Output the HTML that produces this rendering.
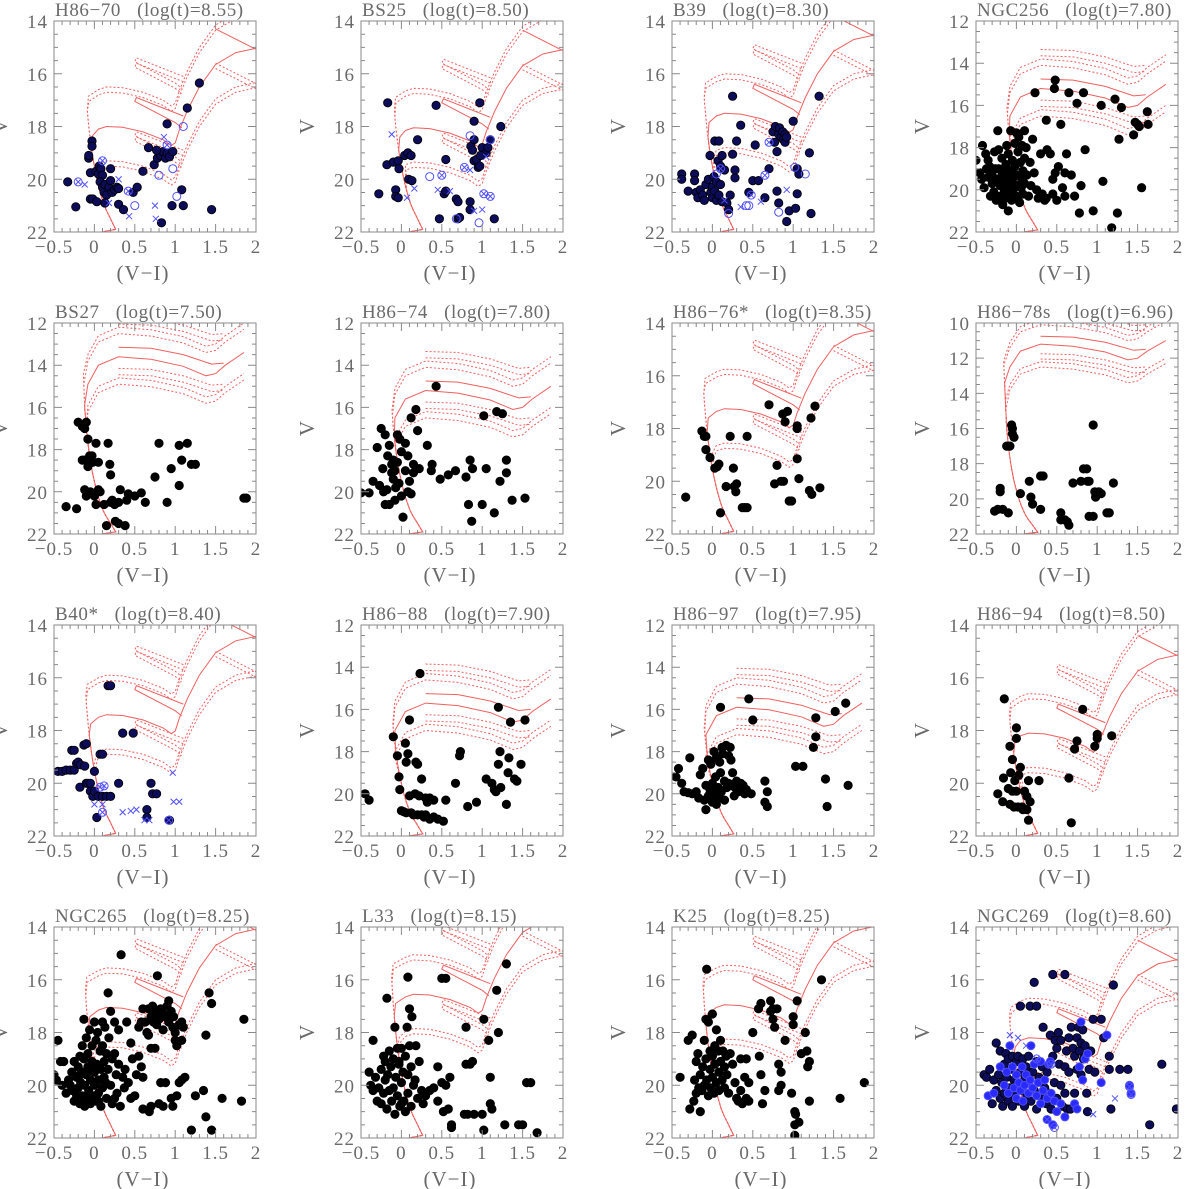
<!DOCTYPE html>
<html><head><meta charset="utf-8"><style>
html,body{margin:0;padding:0;background:#fff;}
svg{display:block;font-family:"Liberation Serif","DejaVu Serif",serif;}
</style></head><body>
<svg id="fig" width="1200" height="1189" viewBox="0 0 1200 1189" xmlns="http://www.w3.org/2000/svg"></svg>
<script>
// ---- chart data ----
const panelNames = ["H86\u221270","BS25","B39","NGC256","BS27","H86\u221274","H86\u221276*","H86\u221278s","B40*","H86\u221288","H86\u221297","H86\u221294","NGC265","L33","K25","NGC269"];
const panelAges = ["8.55","8.50","8.30","7.80","7.50","7.80","8.35","6.96","8.40","7.90","7.95","8.50","8.25","8.15","8.25","8.60"];
const panelYTop = [14,14,14,12,12,12,14,10,14,12,12,14,14,14,14,14];
const isoTurnoffV = [18.0,18.05,17.5,15.2,13.6,15.2,17.25,11.2,17.4,15.7,15.9,18.1,17.05,16.55,16.95,18.2];
const isoYoung = [0,0,0,1,1,1,0,1,0,1,1,0,0,0,0,0];
const hasBlue = [1,1,1,0,0,0,0,0,1,0,0,0,0,0,0,1];
const xTicks = [-0.5,0,0.5,1,1.5,2];
const xTickLabels = ["\u22120.5","0","0.5","1","1.5","2"];

const stars = [
[[-0.33,20.1],[-0.23,21.05],[-0.05,19.75],[-0.07,19.2],[-0.07,19.1],[-0.03,18.55],[-0.03,18.75],[-0.05,20.75],[-0.02,20.75],[0.02,19.7],[0.03,20.85],[0.05,19.8],[0.06,19.5],[0.08,19.6],[0.1,19.85],[0.07,20.1],[0.1,20.3],[0.12,20.5],[0.13,20.2],[0.15,20.6],[0.18,20.3],[0.2,20.05],[0.22,20.5],[0.25,20.4],[0.28,20.3],[0.3,20.35],[0.2,19.6],[0.13,20.9],[0.3,20.95],[0.36,21.15],[0.48,20.5],[0.53,20.3],[0.6,19.7],[0.67,18.8],[0.74,19.45],[0.78,19.2],[0.8,19.0],[0.82,19.1],[0.85,18.95],[0.88,19.2],[0.9,19.0],[0.93,19.15],[0.97,18.95],[0.77,18.9],[0.9,17.9],[1.15,17.3],[1.3,16.35],[1.08,20.4],[1.1,21.0],[0.96,21.0],[0.83,21.65],[1.45,21.15]],
[[-0.28,20.55],[-0.18,19.45],[-0.17,17.1],[-0.1,19.35],[-0.07,20.4],[-0.07,20.65],[-0.04,20.7],[-0.04,19.3],[-0.03,19.6],[0.04,19.1],[0.08,19.0],[0.12,19.1],[0.09,20.0],[0.13,20.05],[0.2,18.5],[0.43,17.2],[0.47,21.5],[0.53,20.55],[0.55,20.45],[0.55,19.25],[0.68,20.75],[0.7,20.85],[0.7,21.5],[0.72,21.45],[0.85,20.85],[0.85,21.15],[0.86,18.75],[0.88,18.9],[0.9,19.3],[0.9,18.5],[0.9,17.8],[0.93,19.25],[0.95,19.55],[0.97,19.5],[0.97,17.1],[1.0,18.8],[1.05,19.0],[1.07,18.8],[1.1,18.5],[1.23,18.0],[1.15,21.5],[0.98,19.1]],
[[-0.38,19.8],[-0.38,20.0],[-0.3,20.45],[-0.22,19.8],[-0.22,20.05],[-0.2,20.5],[-0.18,20.7],[-0.15,20.4],[-0.12,20.6],[-0.1,20.8],[-0.08,20.2],[-0.05,20.0],[-0.03,19.1],[-0.02,20.5],[0.0,20.3],[0.0,20.7],[0.02,19.9],[0.03,20.45],[0.05,20.1],[0.05,20.8],[0.07,19.3],[0.08,20.6],[0.1,19.5],[0.1,20.2],[0.12,20.85],[0.03,18.55],[0.08,18.55],[0.12,19.1],[0.15,19.65],[0.18,20.9],[0.2,21.15],[0.22,20.6],[0.25,19.05],[0.28,19.95],[0.28,19.65],[0.3,18.55],[0.35,17.95],[0.25,16.85],[0.45,20.5],[0.5,20.05],[0.53,18.7],[0.57,20.05],[0.65,20.7],[0.7,19.6],[0.75,18.2],[0.77,18.6],[0.78,18.0],[0.8,20.45],[0.82,18.3],[0.83,18.05],[0.85,18.4],[0.87,18.2],[0.88,18.5],[0.9,18.3],[0.9,18.6],[0.92,18.4],[0.8,18.95],[0.82,20.9],[0.95,21.2],[1.03,21.1],[1.05,19.6],[1.07,19.8],[1.05,20.55],[1.0,17.8],[1.2,19.0],[1.22,21.3],[1.32,16.85],[0.92,21.6]],
[[-0.5,18.6],[-0.45,19.2],[-0.43,19.5],[-0.42,17.9],[-0.38,18.3],[-0.35,18.6],[-0.35,19.4],[-0.33,18.9],[-0.3,19.3],[-0.3,19.7],[-0.28,20.1],[-0.27,18.2],[-0.25,19.5],[-0.23,17.2],[-0.22,19.0],[-0.2,19.8],[-0.2,20.3],[-0.18,18.5],[-0.18,19.3],[-0.17,20.7],[-0.15,19.6],[-0.15,20.0],[-0.13,18.8],[-0.12,17.9],[-0.12,19.4],[-0.1,20.2],[-0.1,18.3],[-0.08,19.1],[-0.08,19.8],[-0.07,17.2],[-0.06,20.5],[-0.05,18.6],[-0.05,19.5],[-0.04,20.0],[-0.02,17.8],[-0.02,18.9],[0.0,17.3],[0.0,19.3],[0.0,20.3],[0.02,18.2],[0.02,19.8],[0.03,17.5],[0.04,20.6],[0.05,18.7],[0.05,19.4],[0.07,17.9],[0.08,19.1],[0.08,20.2],[0.1,17.2],[0.1,18.5],[0.1,19.7],[0.12,18.0],[0.13,19.3],[0.15,20.3],[0.17,18.7],[0.18,19.8],[0.2,17.6],[0.22,19.2],[0.25,20.0],[0.27,20.4],[-0.4,19.9],[-0.32,20.3],[-0.26,19.0],[-0.16,19.1],[-0.1,21.0],[-0.25,20.5],[0.3,18.3],[0.32,20.2],[0.35,20.5],[0.37,20.4],[0.37,16.7],[0.38,18.1],[0.42,18.3],[0.45,19.5],[0.45,20.2],[0.47,15.2],[0.48,14.8],[0.48,19.2],[0.5,20.5],[0.52,18.9],[0.55,16.9],[0.57,19.9],[0.6,19.2],[0.6,20.3],[0.62,18.3],[0.65,15.4],[0.68,19.3],[0.72,20.3],[0.75,15.9],[0.78,21.1],[0.8,19.8],[0.83,15.4],[0.85,18.1],[0.95,21.0],[1.05,16.0],[1.07,19.6],[1.18,21.8],[1.22,15.7],[1.25,21.1],[1.27,17.6],[1.3,16.1],[1.45,17.4],[1.47,16.8],[1.5,16.9],[1.52,17.0],[1.55,19.9],[1.62,16.3],[1.63,16.9],[0.23,15.4],[-0.37,19.0],[-0.28,19.6],[-0.22,18.1],[-0.06,19.2],[0.06,19.9],[-0.14,20.4]],
[[-0.35,20.7],[-0.22,20.8],[-0.2,16.7],[-0.15,16.9],[-0.12,17.0],[-0.1,16.7],[-0.15,18.5],[-0.12,18.5],[-0.12,19.9],[-0.1,20.2],[-0.08,17.5],[-0.08,18.8],[-0.06,18.3],[-0.05,20.0],[-0.03,18.3],[-0.02,18.6],[0.0,20.2],[0.02,20.6],[0.02,17.7],[0.05,19.9],[0.05,18.6],[0.07,20.0],[0.12,20.6],[0.15,21.6],[0.17,17.7],[0.19,18.7],[0.2,19.2],[0.2,20.5],[0.22,20.4],[0.25,20.6],[0.26,21.4],[0.3,21.5],[0.3,20.5],[0.32,19.9],[0.38,21.6],[0.4,20.4],[0.42,20.1],[0.5,20.2],[0.58,20.05],[0.63,20.5],[0.75,19.3],[0.8,17.7],[0.9,20.5],[0.95,18.9],[1.05,17.8],[1.05,19.7],[1.08,18.5],[1.15,17.7],[1.2,18.7],[1.25,18.7],[1.85,20.3],[1.88,20.3]],
[[-0.5,20.05],[-0.4,20.05],[-0.35,19.5],[-0.3,17.9],[-0.27,19.7],[-0.25,17.0],[-0.23,18.9],[-0.22,20.0],[-0.2,20.6],[-0.2,17.3],[-0.18,19.9],[-0.17,18.3],[-0.15,20.6],[-0.15,17.8],[-0.12,19.1],[-0.12,18.7],[-0.1,19.4],[-0.1,18.5],[-0.08,19.0],[-0.08,20.4],[-0.07,19.8],[-0.05,17.3],[-0.05,18.6],[-0.03,19.6],[-0.02,17.5],[0.0,20.2],[0.0,18.1],[0.02,21.2],[0.05,17.7],[0.05,19.0],[0.08,18.3],[0.08,20.0],[0.1,19.5],[0.12,16.5],[0.12,20.1],[0.15,18.7],[0.15,19.1],[0.18,16.1],[0.2,17.1],[0.22,18.9],[0.32,17.8],[0.37,19.0],[0.38,18.7],[0.43,15.0],[0.48,19.4],[0.58,19.2],[0.67,19.0],[0.8,19.3],[0.83,20.6],[0.85,18.5],[0.87,21.4],[0.88,18.9],[1.0,20.6],[1.02,16.4],[1.05,18.9],[1.15,21.0],[1.18,16.2],[1.22,19.5],[1.25,16.3],[1.3,18.5],[1.3,19.1],[1.37,20.4],[1.53,20.3]],
[[-0.33,20.6],[-0.13,18.1],[-0.1,18.3],[-0.08,18.3],[-0.08,18.8],[-0.03,19.1],[0.03,19.5],[0.06,19.45],[0.08,19.35],[0.1,21.2],[0.17,20.2],[0.22,18.3],[0.26,19.5],[0.27,20.2],[0.29,20.4],[0.3,20.1],[0.37,21.0],[0.4,21.0],[0.43,21.0],[0.43,18.3],[0.7,17.1],[0.77,20.1],[0.8,19.4],[0.85,20.0],[0.88,20.0],[0.87,17.45],[0.9,17.75],[0.93,17.35],[0.95,20.75],[0.98,20.75],[1.05,17.9],[1.05,18.0],[1.05,19.15],[1.07,19.9],[1.2,20.35],[1.23,20.5],[1.22,17.6],[1.27,17.15],[1.33,20.25]],
[[-0.27,20.7],[-0.23,20.6],[-0.2,19.4],[-0.2,19.6],[-0.17,20.6],[-0.12,17.0],[-0.1,17.0],[-0.1,20.8],[-0.08,17.0],[-0.06,15.8],[-0.05,16.0],[-0.05,16.3],[-0.03,16.5],[0.05,19.7],[0.16,19.0],[0.18,19.9],[0.2,20.3],[0.3,18.7],[0.33,18.7],[0.3,20.6],[0.55,20.8],[0.55,21.2],[0.6,21.2],[0.63,21.3],[0.65,21.5],[0.7,19.1],[0.8,19.0],[0.83,18.3],[0.87,18.3],[0.88,19.0],[0.9,19.0],[0.9,21.0],[0.95,21.0],[0.95,15.8],[0.97,19.6],[0.98,19.9],[1.02,19.6],[1.05,19.7],[1.12,20.8],[1.15,20.8],[1.2,19.1]],
[[-0.45,19.55],[-0.4,19.55],[-0.35,19.5],[-0.3,19.5],[-0.28,18.75],[-0.25,18.75],[-0.25,19.5],[-0.22,19.25],[-0.2,19.2],[-0.18,20.15],[-0.17,19.3],[-0.13,18.55],[-0.12,19.35],[-0.1,18.5],[-0.1,20.0],[-0.08,20.0],[-0.05,20.0],[-0.05,20.3],[-0.02,20.5],[0.0,19.55],[0.0,20.3],[0.05,20.5],[0.07,18.9],[0.1,18.9],[0.1,20.5],[0.15,20.5],[0.2,20.5],[0.17,16.3],[0.2,16.3],[0.3,20.0],[0.35,18.1],[0.48,18.1],[0.65,21.0],[0.65,21.3],[0.7,20.0],[0.72,20.4],[0.77,20.4],[0.93,21.4],[0.03,21.3]],
[[-0.45,20.0],[-0.4,20.3],[-0.1,17.3],[-0.05,18.2],[-0.03,19.2],[-0.02,19.8],[0.0,20.8],[0.03,20.85],[0.05,17.6],[0.06,18.5],[0.06,20.9],[0.08,18.1],[0.1,16.5],[0.1,20.1],[0.12,20.9],[0.15,21.0],[0.17,20.0],[0.18,18.5],[0.2,18.6],[0.2,21.0],[0.22,20.1],[0.23,14.3],[0.25,21.0],[0.25,19.3],[0.28,21.1],[0.3,21.0],[0.3,20.2],[0.32,20.4],[0.35,21.2],[0.35,20.2],[0.4,21.1],[0.4,20.3],[0.45,21.2],[0.52,21.3],[0.55,20.3],[0.67,19.5],[0.72,18.2],[0.73,18.0],[0.82,20.6],[0.93,20.4],[1.05,19.3],[1.12,19.5],[1.15,19.8],[1.17,19.9],[1.2,18.6],[1.22,18.0],[1.23,19.7],[1.2,15.9],[1.3,20.5],[1.32,19.0],[1.33,18.3],[1.35,16.6],[1.4,19.3],[1.43,19.4],[1.48,18.6],[1.53,16.5]],
[[-0.45,19.2],[-0.42,18.8],[-0.38,19.5],[-0.35,19.9],[-0.3,19.95],[-0.28,18.3],[-0.25,20.0],[-0.2,19.9],[-0.17,20.2],[-0.15,19.1],[-0.12,18.8],[-0.1,20.3],[-0.08,19.6],[-0.08,20.75],[-0.05,18.4],[-0.05,20.1],[-0.03,19.8],[-0.02,18.6],[0.0,19.5],[0.0,20.4],[0.02,18.0],[0.02,20.0],[0.04,19.2],[0.05,18.3],[0.05,20.5],[0.07,19.7],[0.08,20.2],[0.09,18.5],[0.1,15.9],[0.1,19.0],[0.11,19.9],[0.12,17.8],[0.13,18.1],[0.15,19.4],[0.15,20.3],[0.17,17.7],[0.18,19.7],[0.2,18.2],[0.2,19.5],[0.22,17.8],[0.23,18.4],[0.25,19.0],[0.27,20.1],[0.28,19.7],[0.3,19.4],[0.32,19.9],[0.35,19.5],[0.38,19.6],[0.4,20.0],[0.42,19.8],[0.45,15.5],[0.48,20.0],[0.5,16.5],[0.65,19.4],[0.65,20.4],[0.68,20.6],[0.68,19.9],[1.03,18.7],[1.12,18.7],[1.25,17.8],[1.28,16.4],[1.28,17.3],[1.4,19.3],[1.42,20.6],[1.52,16.1],[1.65,15.7],[1.68,19.6]],
[[-0.23,20.4],[-0.17,20.7],[-0.16,19.8],[-0.15,16.8],[-0.1,20.2],[-0.08,20.8],[-0.08,18.6],[-0.07,19.6],[-0.05,19.1],[-0.05,20.3],[-0.03,20.9],[-0.02,19.9],[0.0,18.3],[0.0,17.9],[0.0,20.3],[0.02,20.9],[0.03,19.7],[0.05,19.4],[0.07,20.9],[0.08,21.0],[0.1,20.3],[0.13,20.5],[0.15,19.9],[0.17,20.7],[0.13,21.0],[0.15,21.4],[0.28,19.9],[0.65,19.8],[0.68,21.5],[0.72,18.7],[0.75,18.4],[0.82,17.2],[0.97,18.6],[1.0,18.3],[1.0,18.15],[1.18,18.2]],
[[-0.5,19.6],[-0.47,19.8],[-0.45,18.3],[-0.42,19.1],[-0.38,19.1],[-0.35,20.3],[-0.32,19.8],[-0.3,20.0],[-0.28,19.5],[-0.27,20.2],[-0.25,19.1],[-0.25,20.6],[-0.22,19.7],[-0.22,20.4],[-0.2,19.3],[-0.2,20.1],[-0.18,18.9],[-0.18,20.7],[-0.17,19.9],[-0.15,18.5],[-0.15,19.5],[-0.15,20.4],[-0.13,17.5],[-0.13,19.0],[-0.12,20.0],[-0.12,20.8],[-0.1,18.2],[-0.1,19.6],[-0.1,20.5],[-0.08,18.8],[-0.08,19.3],[-0.07,20.2],[-0.06,17.9],[-0.05,19.8],[-0.05,20.7],[-0.03,18.5],[-0.03,19.1],[-0.02,20.4],[0.0,17.6],[0.0,19.5],[0.0,20.0],[0.02,18.3],[0.02,20.6],[0.03,19.2],[0.04,18.0],[0.05,19.8],[0.05,20.3],[0.07,18.7],[0.08,19.4],[0.08,20.8],[0.1,17.6],[0.1,18.5],[0.1,20.1],[0.12,19.1],[0.12,19.7],[0.13,17.8],[0.15,18.8],[0.15,20.5],[0.17,16.5],[0.17,19.4],[0.18,18.2],[0.2,17.2],[0.2,20.0],[0.22,19.0],[0.22,20.7],[0.25,17.6],[0.25,18.8],[0.27,19.6],[0.28,20.3],[0.3,17.9],[0.3,19.2],[0.32,20.8],[0.33,15.05],[0.35,19.7],[0.37,20.1],[0.38,19.4],[0.4,17.6],[0.42,19.9],[0.45,18.4],[0.45,20.5],[0.47,19.0],[0.5,20.4],[0.52,19.6],[0.55,18.9],[0.58,19.3],[0.6,19.7],[0.6,20.9],[0.68,21.0],[0.7,20.8],[0.75,18.6],[0.8,20.7],[0.82,19.9],[0.85,20.8],[0.88,19.9],[0.95,20.5],[0.97,20.8],[1.02,20.4],[1.05,19.9],[1.08,19.8],[1.12,19.7],[1.2,21.7],[1.25,20.4],[1.35,20.2],[1.38,21.2],[1.45,21.7],[1.58,20.5],[1.82,20.6],[1.38,18.1],[1.42,16.5],[1.45,16.9],[1.85,17.5],[0.78,15.85],[0.55,17.8],[0.58,17.6],[0.6,17.1],[0.63,17.6],[0.65,18.0],[0.67,17.1],[0.7,17.4],[0.72,17.0],[0.73,17.6],[0.75,17.3],[0.77,17.7],[0.78,17.2],[0.8,17.5],[0.82,17.1],[0.85,17.9],[0.85,17.3],[0.88,17.4],[0.9,17.0],[0.92,16.8],[0.92,17.6],[0.95,17.2],[0.97,17.8],[0.98,17.4],[1.0,18.0],[1.0,18.3],[1.02,18.5],[1.05,17.7],[1.08,17.6],[1.1,17.8],[1.08,18.3],[0.67,18.1],[0.7,18.6],[-0.4,20.0],[-0.18,19.6],[-0.05,19.4],[0.05,20.6],[0.14,19.9],[0.25,20.5]],
[[-0.4,19.5],[-0.38,20.0],[-0.35,18.3],[-0.35,20.2],[-0.32,19.7],[-0.3,20.6],[-0.28,20.1],[-0.25,19.4],[-0.25,20.7],[-0.22,18.9],[-0.22,20.3],[-0.2,19.1],[-0.2,19.8],[-0.18,16.7],[-0.18,20.9],[-0.17,19.6],[-0.15,18.7],[-0.15,20.2],[-0.13,19.3],[-0.12,20.6],[-0.1,19.0],[-0.1,20.1],[-0.08,17.8],[-0.08,21.1],[-0.07,19.7],[-0.05,18.6],[-0.05,20.4],[-0.03,19.2],[-0.02,20.8],[0.0,19.9],[0.0,18.6],[0.02,19.5],[0.03,20.6],[0.05,18.9],[0.05,21.0],[0.07,17.8],[0.08,19.6],[0.08,20.3],[0.1,17.1],[0.1,18.5],[0.12,19.3],[0.12,20.8],[0.13,17.4],[0.15,20.0],[0.17,19.8],[0.18,18.5],[0.2,20.5],[0.22,19.1],[0.25,20.2],[0.27,20.7],[0.3,20.4],[0.35,20.2],[0.4,20.1],[0.45,19.3],[0.45,20.6],[0.5,19.9],[0.52,21.0],[0.55,20.0],[0.6,19.7],[0.58,20.9],[0.62,21.6],[0.62,21.5],[0.08,15.9],[0.5,15.95],[0.55,15.95],[0.8,17.8],[0.8,19.2],[0.85,19.2],[0.88,19.1],[0.78,21.1],[0.82,21.1],[0.9,21.1],[1.0,21.1],[1.02,17.5],[1.02,21.7],[1.08,18.3],[1.1,19.7],[1.1,20.7],[1.12,20.9],[1.18,16.4],[1.2,18.0],[1.28,21.5],[1.3,15.4],[1.45,21.5],[1.5,21.5],[1.55,19.9],[1.6,19.9],[1.68,21.8],[-0.03,19.1],[0.0,20.7]],
[[-0.4,19.7],[-0.3,18.3],[-0.28,20.9],[-0.25,18.1],[-0.23,20.6],[-0.22,19.8],[-0.2,19.1],[-0.2,20.3],[-0.18,18.8],[-0.17,20.1],[-0.15,19.6],[-0.15,21.0],[-0.13,20.2],[-0.12,19.3],[-0.1,18.3],[-0.1,20.0],[-0.08,17.5],[-0.08,19.0],[-0.07,15.6],[-0.07,19.8],[-0.05,20.4],[-0.05,17.6],[-0.03,18.7],[-0.03,19.4],[-0.02,20.1],[0.0,17.3],[0.0,18.9],[0.0,19.7],[0.02,20.3],[0.03,18.5],[0.03,19.2],[0.05,19.9],[0.05,17.9],[0.07,18.7],[0.08,19.5],[0.08,20.2],[0.1,18.3],[0.1,19.1],[0.12,19.8],[0.13,18.7],[0.15,20.1],[0.15,19.3],[0.17,18.9],[0.18,19.6],[0.2,20.3],[0.22,18.8],[0.25,19.2],[0.28,19.9],[0.3,20.5],[0.32,20.6],[0.35,19.0],[0.35,20.2],[0.37,20.7],[0.4,19.7],[0.42,20.5],[0.42,19.0],[0.45,19.9],[0.45,20.6],[0.5,18.0],[0.57,17.1],[0.58,18.9],[0.6,19.6],[0.6,16.9],[0.62,20.7],[0.65,20.2],[0.72,16.8],[0.72,17.2],[0.75,17.1],[0.75,17.5],[0.77,17.8],[0.8,17.1],[0.82,19.2],[0.85,19.5],[0.82,20.2],[0.85,20.0],[0.9,18.3],[0.98,20.3],[1.0,17.4],[1.0,17.7],[1.02,21.0],[1.03,21.1],[1.02,21.5],[1.02,21.9],[1.05,16.8],[1.07,21.4],[1.1,18.8],[1.15,18.0],[1.17,18.7],[1.18,19.3],[1.2,19.1],[1.2,20.6],[1.35,16.0],[1.58,20.5],[1.88,19.9]],
[[-0.4,19.6],[-0.37,19.7],[-0.33,19.4],[-0.3,20.7],[-0.28,19.8],[-0.25,18.4],[-0.25,20.2],[-0.22,19.6],[-0.2,18.7],[-0.2,20.5],[-0.18,19.9],[-0.17,20.8],[-0.15,19.2],[-0.15,20.3],[-0.13,18.8],[-0.12,19.7],[-0.1,20.6],[-0.1,19.0],[-0.08,20.1],[-0.07,19.4],[-0.05,18.9],[-0.05,20.8],[-0.03,19.8],[-0.02,20.4],[0.0,19.1],[0.0,20.0],[0.02,18.9],[0.03,20.6],[0.05,19.5],[0.05,17.0],[0.07,20.2],[0.08,19.0],[0.1,19.8],[0.1,20.8],[0.12,19.3],[0.13,20.4],[0.15,18.9],[0.15,19.9],[0.17,17.0],[0.18,20.6],[0.2,19.5],[0.22,16.1],[0.22,20.2],[0.25,19.1],[0.25,20.9],[0.28,19.7],[0.3,20.4],[0.32,19.3],[0.33,17.8],[0.35,20.1],[0.37,20.7],[0.38,19.5],[0.4,20.3],[0.42,18.1],[0.43,20.9],[0.45,15.8],[0.45,18.9],[0.47,19.9],[0.48,18.3],[0.5,20.5],[0.5,18.6],[0.52,18.0],[0.53,19.2],[0.55,20.0],[0.55,18.3],[0.57,20.8],[0.6,15.8],[0.6,19.3],[0.6,20.3],[0.62,18.7],[0.63,20.9],[0.65,18.2],[0.65,19.5],[0.67,20.9],[0.68,17.8],[0.7,18.6],[0.72,18.9],[0.72,20.3],[0.75,18.2],[0.75,19.4],[0.77,17.8],[0.78,18.7],[0.8,19.6],[0.8,18.4],[0.82,17.9],[0.83,19.0],[0.85,18.5],[0.87,20.3],[0.88,21.0],[0.9,19.4],[0.92,18.7],[0.95,17.5],[0.97,19.5],[1.05,17.5],[1.08,18.2],[1.15,18.9],[1.15,19.4],[1.17,20.9],[1.2,16.2],[1.28,19.4],[1.38,19.4],[1.65,21.5],[1.8,19.2],[1.98,20.9],[0.25,17.0]]
];
const blueOpen = [
[[0.5,21.0],[1.1,18.0],[0.97,19.6],[0.8,19.85],[1.02,20.65]],
[[0.35,19.9],[0.85,18.35],[0.96,21.65],[0.68,21.5],[1.1,18.5]],
[[0.45,21.0],[0.82,21.25],[1.15,19.8],[1.02,19.55],[0.2,21.3],[0.42,21.0],[0.05,19.8]],
[],[],[],[],[],
[],
[],[],[],[],[],[],
[[-0.35,20.4],[-0.28,20.3],[-0.2,19.3],[-0.15,20.0],[-0.12,19.5],[-0.1,20.3],[-0.08,18.5],[-0.05,19.3],[-0.03,20.1],[0.0,19.6],[0.0,20.5],[0.03,19.9],[0.05,20.2],[0.07,19.3],[0.08,20.6],[0.1,20.0],[0.12,19.6],[0.15,20.3],[0.17,19.8],[0.2,20.1],[0.22,19.2],[0.25,20.4],[0.27,19.9],[0.3,20.7],[0.33,20.2],[0.35,19.8],[0.38,20.5],[0.4,19.2],[0.43,20.3],[0.47,20.6],[0.5,21.0],[0.55,20.7],[0.6,21.2],[0.45,21.5],[0.38,21.3],[0.72,20.7],[0.75,20.9],[0.78,19.3],[0.85,19.0],[0.82,19.8],[0.88,18.8],[0.8,17.6],[1.05,19.9],[1.12,18.1],[1.4,20.0],[1.42,20.3],[0.3,19.1],[0.42,19.1],[0.18,18.5]]
];
const blueOtimes = [
[[-0.2,20.1],[0.1,19.3],[0.42,20.45],[0.9,18.7]],
[[0.78,19.55],[0.5,19.85],[1.02,20.55],[1.1,20.65]],
[[0.65,19.85],[0.7,18.6],[0.48,20.6],[0.1,19.6]],
[],[],[],[],[],
[[0.07,20.15],[0.12,20.1],[0.1,21.1],[0.92,21.4]],
[],[],[],[],[],[],
[[1.4,20.05],[1.42,20.35],[0.25,19.0],[0.43,19.2],[0.47,21.6]]
];
const blueCross = [
[[-0.12,20.2],[0.3,20.0],[0.43,21.4],[0.75,21.0],[0.76,21.5],[0.86,18.4],[0.18,20.9]],
[[-0.12,18.3],[0.16,20.35],[0.07,20.7],[0.45,20.4],[0.6,20.45],[0.85,19.65],[0.9,21.2],[1.0,21.15],[1.05,19.15]],
[[0.35,21.05],[0.6,20.85],[0.92,20.4],[0.15,20.8]],
[],[],[],[],[],
[[0.0,20.8],[0.1,20.8],[0.35,21.1],[0.45,21.05],[0.52,21.0],[0.62,21.4],[0.68,21.4],[0.97,19.6],[0.98,20.7],[1.05,20.7]],
[],[],[],[],[],[],
[[-0.08,18.1],[0.02,18.2],[0.12,18.5],[1.22,20.5],[0.95,21.1],[0.38,21.3]]
];

// ---- drawing ----
const NS = "http://www.w3.org/2000/svg";
const svg = document.getElementById("fig");
const colLeft = [54,361,672,976], rowTop = [21,323,625,927], PW = 202, PH = 211;
const zamsV = [22,21.5,21,20.5,20,19.5,19,18,17,16,15,14,13,12,11,10];
const zamsC = [0.28,0.2,0.12,0.07,0.03,0.0,-0.03,-0.07,-0.1,-0.12,-0.13,-0.14,-0.15,-0.16,-0.17,-0.18];
function zams(v){for(let i=0;i<zamsV.length-1;i++){if(v<=zamsV[i]&&v>=zamsV[i+1]){const t=(zamsV[i]-v)/(zamsV[i]-zamsV[i+1]);return zamsC[i]+t*(zamsC[i+1]-zamsC[i]);}}return -0.18;}
function mk(tag,attrs,parent){const e=document.createElementNS(NS,tag);for(const k in attrs)e.setAttribute(k,attrs[k]);parent.appendChild(e);return e;}
function msPart(vStop){const a=[];for(let v=22.4;v>=vStop;v-=0.25)a.push([zams(v),v]);return a;}
function isoOld(T){
  const ms=msPart(T+0.7);
  const main=ms.concat([[zams(T+0.7)+0.02,T+0.35],[0.05,T+0.1],[0.15,T],[0.35,T+0.03],[0.6,T+0.2],[0.85,T+0.5],[0.95,T+0.72],[1.0,T+0.62],[1.05,T+0.15],[1.15,T-0.6],[1.3,T-1.5],[1.5,T-2.35],[1.75,T-2.8],[2.05,T-3.0]]);
  const loop=[[1.1,T-0.4],[0.52,T-1.1],[0.5,T-0.95],[1.0,T-0.15],[1.08,T+0.05]];
  const agb=[[1.5,T-3.7],[2.05,T-2.85]];
  return [main,loop,agb];
}
function isoYng(T){
  const ms=msPart(T+2.2);
  const main=ms.concat([[-0.08,T+1.3],[0.05,T+0.4],[0.3,T],[0.7,T+0.12],[1.1,T+0.45],[1.38,T+0.9],[1.5,T+0.8],[1.62,T+0.4],[1.85,T-0.2]]);
  const upper=[[0.3,T-0.45],[0.7,T-0.4],[1.1,T-0.1],[1.45,T+0.35],[1.6,T+0.3]];
  return [main,upper];
}
const grayT="#6a6a6a", grayF="#8a8a8a";
for(let p=0;p<16;p++){
  const L=colLeft[p%4], Tp=rowTop[Math.floor(p/4)], y0=panelYTop[p];
  const X=c=>L+(c+0.5)/2.5*PW;
  const Y=v=>Tp+(v-y0)/(22-y0)*PH;
  const g=mk("g",{},svg);
  
  
  const cp=mk("clipPath",{id:"cp"+p},g);
  mk("rect",{x:L,y:Tp,width:PW,height:PH},cp);
  const title=mk("text",{x:L+1,y:Tp-5,"font-size":"19","fill":grayT,"letter-spacing":"0.6"},g);
  title.textContent=panelNames[p]+"\u00a0\u00a0\u00a0(log(t)="+panelAges[p]+")";
  
  
  // isochrones
  const ig=mk("g",{"clip-path":"url(#cp"+p+")",fill:"none",stroke:"#f06060","stroke-width":"1"},g);
  
  
  const T=isoTurnoffV[p];
  const fn=isoYoung[p]?isoYng:isoOld;
  const variants=isoYoung[p]?[[0,0],[-1.1,1],[-1.4,1],[1.0,1],[1.3,1]]:[[0,0],[-1.3,1],[-1.5,1],[1.3,1],[1.5,1]];
  variants.forEach(([dv,dot])=>{
    fn(T+dv).forEach(seg=>{
      const pl=mk("polyline",{points:seg.map(q=>X(q[0]).toFixed(1)+","+Y(q[1]).toFixed(1)).join(" ")},ig);
      if(dot)pl.setAttribute("stroke-dasharray","2,2");
      
      
    });
  });
  // stars
  const sg=mk("g",{"clip-path":"url(#cp"+p+")"},g);
  const fillC=hasBlue[p]?"#0c0c58":"#000";
  stars[p].forEach(s=>{
    const c=mk("circle",{cx:X(s[0]).toFixed(1),cy:Y(s[1]).toFixed(1),r:"4.2",fill:fillC,stroke:"#000","stroke-width":"0.8"},sg);
    
    
  });
  blueOpen[p].forEach(s=>{
    const c=mk("circle",{cx:X(s[0]).toFixed(1),cy:Y(s[1]).toFixed(1),r:"4",fill:p===15?"#2a2aff":"none",stroke:"#5050ff","stroke-width":"1"},sg);
    
    
  });
  blueOtimes[p].forEach(s=>{
    const cx=X(s[0]),cy=Y(s[1]);
    const c=mk("circle",{cx:cx.toFixed(1),cy:cy.toFixed(1),r:"4",fill:"none",stroke:"#5050ff","stroke-width":"1"},sg);
    
    
    const xp=mk("path",{d:`M${cx-2.5},${cy-2.5}L${cx+2.5},${cy+2.5}M${cx-2.5},${cy+2.5}L${cx+2.5},${cy-2.5}`,stroke:"#5050ff","stroke-width":"1"},sg);
    
    
  });
  blueCross[p].forEach(s=>{
    const cx=X(s[0]),cy=Y(s[1]);
    const xp=mk("path",{d:`M${cx-3},${cy-3}L${cx+3},${cy+3}M${cx-3},${cy+3}L${cx+3},${cy-3}`,stroke:"#5050ff","stroke-width":"1"},sg);
    
    
  });
  // frame and ticks
  const fr=mk("rect",{x:L,y:Tp,width:PW,height:PH,fill:"none",stroke:grayF,"stroke-width":"1"},g);
  
  
  let d="";
  for(let i=-5;i<=20;i++){const x=X(i/10);const len=(i%5===0)?8:4;d+=`M${x},${Tp+PH}v${-len}M${x},${Tp}v${len}`;}
  for(let v=y0;v<=22.001;v+=0.5){const y=Y(v);const len=(Math.abs(v-Math.round(v))<0.01&&Math.round(v)%2===0)?8:4;d+=`M${L},${y}h${len}M${L+PW},${y}h${-len}`;}
  const tk=mk("path",{d:d,stroke:grayF,"stroke-width":"1",fill:"none"},g);
  
  
  xTicks.forEach((t,i)=>{
    const tx=mk("text",{x:X(t),y:Tp+PH+21,"font-size":"19","fill":grayT,"text-anchor":"middle","letter-spacing":"1"},g);
    tx.textContent=xTickLabels[i];
    
    
  });
  for(let v=y0;v<=22;v+=2){
    const ty=mk("text",{x:L-6,y:Y(v)+7,"font-size":"19","fill":grayT,"text-anchor":"end","letter-spacing":"1"},g);
    ty.textContent=String(v);
    
    
  }
  const xl=mk("text",{x:L+PW/2-12,y:Tp+PH+48,"font-size":"21","fill":grayT,"text-anchor":"middle","letter-spacing":"1"},g);
  xl.textContent="(V\u2212I)";
  
  
  const yl=mk("text",{x:L-47,y:Tp+PH/2,"font-size":"21","fill":grayT,"text-anchor":"middle",transform:`rotate(-90 ${L-47} ${Tp+PH/2})`},g);
  yl.textContent="V";
  
  
}
</script>
</body></html>
